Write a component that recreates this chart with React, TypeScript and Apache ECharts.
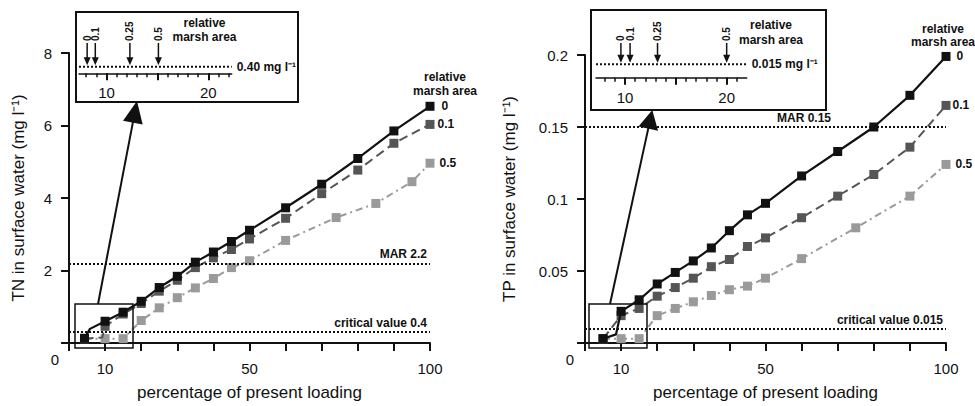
import React, { useEffect, useRef } from 'react';
import * as echarts from 'echarts';

const FONT = '"Liberation Sans", Arial, Helvetica, sans-serif';
const INK = '#111';
const DARK = '#555';
const LIGHT = '#9a9a9a';

// ---------- TN (left panel) ----------
const tnX0 = [4.3, 5.8, 10, 15, 20, 25, 30, 35, 40, 45, 50, 60, 70, 80, 90, 100];
const tnY0 = [0.13, 0.39, 0.6, 0.85, 1.15, 1.53, 1.84, 2.23, 2.51, 2.8, 3.11, 3.73, 4.38, 5.09, 5.85, 6.53];
const tnX1 = [4.3, 9.2, 10, 15, 20, 25, 30, 35, 40, 45, 50, 60, 70, 80, 90, 100];
const tnY1 = [0.12, 0.15, 0.46, 0.8, 1.09, 1.43, 1.73, 2.08, 2.35, 2.58, 2.87, 3.44, 4.12, 4.77, 5.51, 6.03];
const tnX5 = [4.3, 10, 15, 20, 25, 30, 35, 40, 45, 50, 60, 74, 85, 95, 100];
const tnY5 = [0.12, 0.12, 0.12, 0.62, 0.97, 1.25, 1.52, 1.78, 2.08, 2.27, 2.83, 3.46, 3.85, 4.45, 4.96];
const tnLineOnlyX0 = [5.8];
const tnLineOnlyX1 = [9.2];
const tnMAR = 2.2;
const tnCriticalDrawn = 0.3;
const tnCriticalLabel = 'critical value 0.4';
const tnMARLabel = 'MAR 2.2';
const tnInsetThreshold = 0.4;
const tnInsetArrowX = [8.1, 8.9, 12.3, 15.1];

// ---------- TP (right panel) ----------
const tpX0 = [5, 8.6, 10, 15, 20, 25, 30, 35, 40, 45, 50, 60, 70, 80, 90, 100];
const tpY0 = [0.003, 0.006, 0.022, 0.03, 0.041, 0.049, 0.057, 0.066, 0.078, 0.089, 0.097, 0.116, 0.133, 0.15, 0.172, 0.199];
const tpX1 = [5, 10, 15, 20, 25, 30, 35, 40, 45, 50, 60, 70, 80, 90, 100];
const tpY1 = [0.003, 0.019, 0.024, 0.0325, 0.0385, 0.045, 0.053, 0.058, 0.067, 0.073, 0.087, 0.102, 0.117, 0.136, 0.165];
const tpX5 = [5, 10, 15, 20, 25, 30, 35, 40, 45, 50, 60, 75, 90, 100];
const tpY5 = [0.003, 0.003, 0.003, 0.019, 0.024, 0.0286, 0.033, 0.037, 0.0395, 0.045, 0.0586, 0.08, 0.102, 0.124];
const tpLineOnlyX0 = [8.6];
const tpMAR = 0.15;
const tpCritical = 0.015;
const tpCriticalLabel = 'critical value 0.015';
const tpMARLabel = 'MAR 0.15';
const tpInsetThreshold = 0.015;
const tpInsetArrowX = [9.6, 10.5, 13.2, 20.0];

const marshLabels = ['0', '0.1', '0.5'];
const arrowLabels = ['0', '0.1', '0.25', '0.5'];
const mainTickLabels = [10, 50, 100];
const insetMinorTicks = [8, 9, 10, 11, 12, 13, 14, 15, 16, 17, 18, 19, 20, 21, 22];
const insetMajorTicks = [10, 15, 20];
const insetTickLabels = [10, 20];

function buildData(xs: number[], ys: number[], lineOnly: number[], endLabel: string, dist: number) {
  return xs.map((x, i) => {
    const item: any = { value: [x, ys[i]] };
    if (lineOnly.includes(x)) item.symbol = 'none';
    if (i === xs.length - 1) {
      item.label = {
        show: true, position: 'right', distance: dist, formatter: endLabel,
        fontWeight: 'bold', fontSize: 12, color: INK, fontFamily: FONT,
      };
    }
    return item;
  });
}

function dataSeries(xs: number[], ys: number[], lineOnly: number[], color: string, dash: any, width: number, grid: number, label: string, dist: number, extra: any = {}) {
  return {
    type: 'line',
    xAxisIndex: grid,
    yAxisIndex: grid,
    data: buildData(xs, ys, lineOnly, label, dist),
    symbol: 'rect',
    symbolSize: 9,
    showAllSymbol: true,
    itemStyle: { color },
    lineStyle: { color, width, type: dash },
    z: color === INK ? 5 : color === DARK ? 4 : 3,
    ...extra,
  };
}

function refLines(values: number[], labels: string[], rightPads: number[]) {
  return {
    silent: true,
    symbol: ['none', 'none'],
    lineStyle: { color: INK, width: 2, type: [2, 2] },
    data: values.map((v, i) => ({
      yAxis: v,
      label: {
        show: true, position: 'insideEndTop', formatter: labels[i], distance: 3,
        padding: [0, rightPads[i], 0, 0],
        fontWeight: 'bold', fontSize: 12, color: INK, fontFamily: FONT,
      },
    })),
  };
}

function arrowRender(threshold: number, yTop: number) {
  return (params: any, api: any) => {
    const x = api.value(0);
    const idx = api.value(2);
    const tip = api.coord([x, threshold]);
    const top = api.coord([x, yTop]);
    const tx = tip[0];
    const ty = tip[1] - 1.5;
    return {
      type: 'group',
      children: [
        { type: 'line', shape: { x1: tx, y1: top[1] + 3, x2: tx, y2: ty - 6 }, style: { stroke: INK, lineWidth: 1.5 } },
        { type: 'polygon', shape: { points: [[tx - 3.5, ty - 8], [tx + 3.5, ty - 8], [tx, ty]] }, style: { fill: INK } },
        {
          type: 'text', x: tx, y: top[1] + 1, rotation: Math.PI / 2,
          style: { text: arrowLabels[idx], align: 'left', verticalAlign: 'middle', fontWeight: 'bold', fontSize: 10, fontFamily: FONT, fill: INK },
        },
      ],
    };
  };
}

function bigArrow(x0: number, y0: number, tx: number, ty: number, headLen: number, halfW: number) {
  const dx = tx - x0, dy = ty - y0;
  const len = Math.sqrt(dx * dx + dy * dy);
  const ux = dx / len, uy = dy / len;
  const bx = tx - ux * headLen, by = ty - uy * headLen;
  const nx = -uy, ny = ux;
  return [
    { type: 'line', shape: { x1: x0, y1: y0, x2: bx + ux * 2, y2: by + uy * 2 }, style: { stroke: INK, lineWidth: 2 } },
    { type: 'polygon', shape: { points: [[tx, ty], [bx + nx * halfW, by + ny * halfW], [bx - nx * halfW, by - ny * halfW]] }, style: { fill: INK } },
  ];
}

function txt(x: number, y: number, text: string, size: number, bold: boolean, align = 'center') {
  return { type: 'text', x, y, style: { text, fontSize: size, fontWeight: bold ? 'bold' : 'normal', fontFamily: FONT, fill: INK, align, verticalAlign: 'middle' } };
}

function rect(x: number, y: number, w: number, h: number, lw: number) {
  return { type: 'rect', shape: { x, y, width: w, height: h }, style: { fill: 'none', stroke: INK, lineWidth: lw }, z: 10 };
}

const mainAxisLine = { lineStyle: { color: INK, width: 2 } };
const mainTick = { length: 8, lineStyle: { color: INK, width: 2 } };

function mainX(grid: number) {
  return {
    gridIndex: grid, type: 'value', min: 0, max: 100, interval: 10,
    axisLine: mainAxisLine, axisTick: mainTick, splitLine: { show: false },
    axisLabel: { formatter: (v: number) => (mainTickLabels.includes(v) ? String(v) : ''), margin: 18, fontSize: 15, color: INK, fontFamily: FONT },
    name: 'percentage of present loading', nameLocation: 'middle', nameGap: 41,
    nameTextStyle: { fontSize: 17, color: INK, fontFamily: FONT },
  };
}

function mainY(grid: number, max: number, interval: number, name: string, gap: number) {
  return {
    gridIndex: grid, type: 'value', min: 0, max, interval,
    axisLine: mainAxisLine, axisTick: mainTick, splitLine: { show: false },
    axisLabel: { formatter: (v: number) => (v === 0 ? '' : String(+v.toFixed(3))), margin: 17, fontSize: 15, color: INK, fontFamily: FONT },
    name, nameLocation: 'middle', nameGap: gap,
    nameTextStyle: { fontSize: 17, color: INK, fontFamily: FONT },
  };
}

function insetXMinor(grid: number, min: number, max: number) {
  return {
    gridIndex: grid, type: 'value', min, max, position: 'bottom',
    axisLine: { lineStyle: { color: INK, width: 1.5 } },
    axisTick: { customValues: insetMinorTicks, length: 4, lineStyle: { color: INK, width: 1.5 } },
    axisLabel: { show: false }, splitLine: { show: false },
  };
}

function insetXMajor(grid: number, min: number, max: number) {
  return {
    gridIndex: grid, type: 'value', min, max, position: 'bottom',
    axisLine: { show: false },
    axisTick: { customValues: insetMajorTicks, length: 7, lineStyle: { color: INK, width: 2 } },
    axisLabel: { customValues: insetTickLabels, margin: 12, fontSize: 15, color: INK, fontFamily: FONT },
    splitLine: { show: false },
  };
}

function insetThresholdSeries(xAxisIndex: number, yAxisIndex: number, min: number, max: number, thr: number, label: string) {
  return {
    type: 'line', xAxisIndex, yAxisIndex, symbol: 'none', silent: true,
    data: [[min, thr], [max, thr]],
    lineStyle: { color: INK, width: 2, type: [2, 2] },
    endLabel: { show: true, formatter: label, distance: 5, fontWeight: 'bold', fontSize: 12, color: INK, fontFamily: FONT },
  };
}

export default function App() {
  const ref = useRef<HTMLDivElement>(null);
  useEffect(() => {
    if (!ref.current) return;
    const chart = echarts.init(ref.current, undefined, { renderer: 'svg' });
    const tnInsetMin = 7.3, tnInsetMax = 22.3;
    const tpInsetMin = 7.15, tpInsetMax = 21.97;
    const option: any = {
      animation: false,
      backgroundColor: '#fff',
      textStyle: { fontFamily: FONT, color: INK },
      grid: [
        { left: 69, top: 53, width: 361, height: 291.5 },
        { left: 585, top: 55, width: 361, height: 289.5 },
        { left: 79, top: 40, width: 152.7, height: 33.3 },
        { left: 596, top: 40, width: 150.7, height: 37.7 },
      ],
      xAxis: [
        mainX(0),
        mainX(1),
        insetXMinor(2, tnInsetMin, tnInsetMax),
        insetXMinor(3, tpInsetMin, tpInsetMax),
        insetXMajor(2, tnInsetMin, tnInsetMax),
        insetXMajor(3, tpInsetMin, tpInsetMax),
      ],
      yAxis: [
        mainY(0, 8, 2, 'TN in surface water (mg l⁻¹)', 42),
        mainY(1, 0.2, 0.05, 'TP in surface water (mg l⁻¹)', 67),
        { gridIndex: 2, type: 'value', min: 0.3, max: 0.8, show: false },
        { gridIndex: 3, type: 'value', min: 0, max: 0.042, show: false },
      ],
      series: [
        dataSeries(tnX5, tnY5, [], LIGHT, [7, 4, 2, 4], 2, 0, marshLabels[2], 5),
        dataSeries(tnX1, tnY1, tnLineOnlyX1, DARK, [9, 5], 2, 0, marshLabels[1], 3),
        dataSeries(tnX0, tnY0, tnLineOnlyX0, INK, 'solid', 2.2, 0, marshLabels[0], 7, {
          markLine: refLines([tnMAR, tnCriticalDrawn], [tnMARLabel, tnCriticalLabel], [0, 0]),
        }),
        dataSeries(tpX5, tpY5, [], LIGHT, [7, 4, 2, 4], 2, 1, marshLabels[2], 5),
        dataSeries(tpX1, tpY1, [], DARK, [9, 5], 2, 1, marshLabels[1], 2),
        dataSeries(tpX0, tpY0, tpLineOnlyX0, INK, 'solid', 2.2, 1, marshLabels[0], 6, {
          markLine: refLines([tpMAR, tpCritical], [tpMARLabel, tpCriticalLabel], [112, 0]),
        }),
        insetThresholdSeries(2, 2, tnInsetMin, tnInsetMax, tnInsetThreshold, '0.40 mg l⁻¹'),
        insetThresholdSeries(3, 3, tpInsetMin, tpInsetMax, tpInsetThreshold, '0.015 mg l⁻¹'),
        {
          type: 'custom', coordinateSystem: 'cartesian2d', xAxisIndex: 2, yAxisIndex: 2, silent: true,
          data: tnInsetArrowX.map((x, i) => [x, tnInsetThreshold, i]),
          encode: { x: 0, y: 1 },
          renderItem: arrowRender(tnInsetThreshold, 0.8),
        },
        {
          type: 'custom', coordinateSystem: 'cartesian2d', xAxisIndex: 3, yAxisIndex: 3, silent: true,
          data: tpInsetArrowX.map((x, i) => [x, tpInsetThreshold, i]),
          encode: { x: 0, y: 1 },
          renderItem: arrowRender(tpInsetThreshold, 0.042),
        },
      ],
      graphic: [
        txt(55, 359, '0', 15, false),
        txt(570, 359, '0', 15, false),
        rect(76, 12, 222, 90, 2),
        rect(591, 10, 235, 100, 2),
        rect(75, 304, 58, 44, 1.5),
        rect(589, 304, 58, 44, 1.5),
        ...bigArrow(98, 304, 137, 101, 22, 10),
        ...bigArrow(610, 304, 652.3, 110, 19, 10),
        txt(204.5, 23, 'relative', 12, true),
        txt(204.5, 37, 'marsh area', 12, true),
        txt(771, 25, 'relative', 12, true),
        txt(771, 40, 'marsh area', 12, true),
        txt(445, 77, 'relative', 12, true),
        txt(445, 91, 'marsh area', 12, true),
        txt(943, 29, 'relative', 12, true),
        txt(943, 42, 'marsh area', 12, true),
      ],
    };
    chart.setOption(option);
    return () => chart.dispose();
  }, []);
  return <div ref={ref} style={{ position: 'absolute', left: 0, top: 0, width: 975, height: 406, background: '#fff' }} />;
}
